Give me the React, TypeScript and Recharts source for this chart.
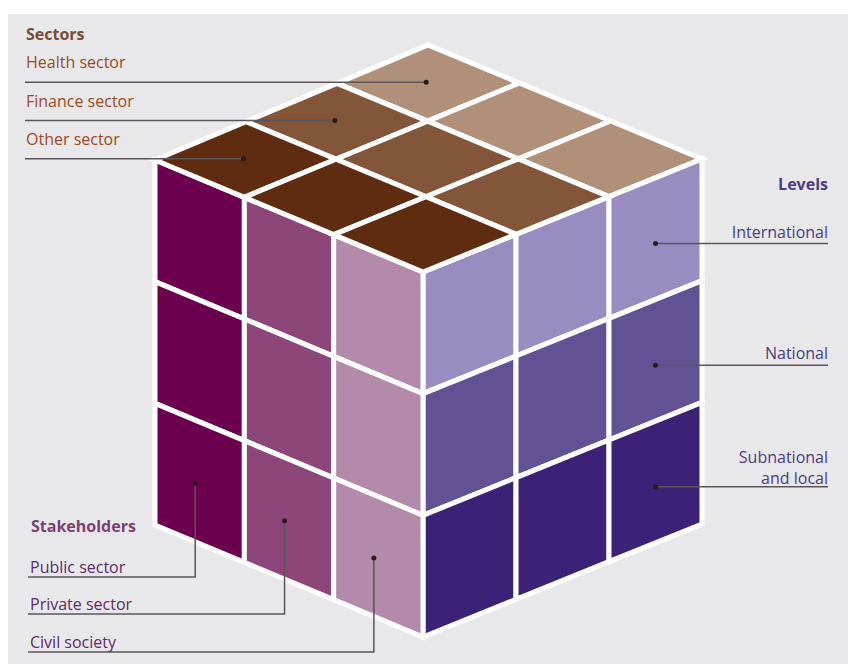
import { ScatterChart, Scatter, XAxis, YAxis } from "recharts";

const W = 848;
const H = 664;

// top face, back row to front row
const sectors = ["Health sector", "Finance sector", "Other sector"];
const sectorColors = ["#b09079", "#835539", "#5f2c10"];

// left face columns, left to right
const stakeholders = ["Public sector", "Private sector", "Civil society"];
const stakeholderColors = ["#6a004e", "#8c4679", "#b48aab"];
const stakeholderLineY = [577, 614, 652];

// right face rows, top to bottom
const levels = ["International", "National", "Subnational\nand local"];
const levelColors = ["#998cc1", "#625294", "#3b2276"];

// cube outline
const cubeLeft = { x: 155, y: 160 };
const cubeFront = { x: 423, y: 272 };
const cubeBack = { x: 428, y: 45 };
const cubeRight = { x: 702, y: 159 };
const cubeHeight = 365;

type Pt = { x: number; y: number };

const down = (p: Pt): Pt => ({ x: p.x, y: p.y + cubeHeight });

// bilinear point on a face given its four corners
function facePoint(p00: Pt, p10: Pt, p01: Pt, p11: Pt, s: number, t: number): Pt {
  return {
    x: (1 - s) * (1 - t) * p00.x + s * (1 - t) * p10.x + (1 - s) * t * p01.x + s * t * p11.x,
    y: (1 - s) * (1 - t) * p00.y + s * (1 - t) * p10.y + (1 - s) * t * p01.y + s * t * p11.y,
  };
}

type Face = [Pt, Pt, Pt, Pt];
const topFace: Face = [cubeLeft, cubeFront, cubeBack, cubeRight];
const leftFace: Face = [cubeLeft, cubeFront, down(cubeLeft), down(cubeFront)];
const rightFace: Face = [cubeFront, cubeRight, down(cubeFront), down(cubeRight)];

const onFace = (face: Face, s: number, t: number) => facePoint(face[0], face[1], face[2], face[3], s, t);

function cell(face: Face, s0: number, t0: number, fill: string) {
  const c = onFace(face, s0 + 1 / 6, t0 + 1 / 6);
  return {
    x: c.x,
    y: c.y,
    fill,
    pts: [onFace(face, s0, t0), onFace(face, s0 + 1 / 3, t0), onFace(face, s0 + 1 / 3, t0 + 1 / 3), onFace(face, s0, t0 + 1 / 3)],
  };
}

const cells: any[] = [];
for (let i = 0; i < 3; i++) {
  for (let j = 0; j < 3; j++) {
    // top: rows run from front edge (t=0, other) to back edge (t=1, health)
    cells.push(cell(topFace, j / 3, (2 - i) / 3, sectorColors[i]));
    cells.push(cell(leftFace, j / 3, i / 3, stakeholderColors[j]));
    cells.push(cell(rightFace, j / 3, i / 3, levelColors[i]));
  }
}

// leader dots sit roughly in the middle of the cell they point at
const sectorDots = sectors.map((_, k) => onFace(topFace, 0.16, (2.5 - k) / 3));
const stakeholderDots = stakeholders.map((_, j) => onFace(leftFace, (j + 0.45) / 3, 0.84));
const levelDots = levels.map((_, i) => onFace(rightFace, 5 / 6, (i + 0.54) / 3));

const leaders: Pt[][] = [
  ...sectorDots.map((d) => [{ x: 25, y: d.y }, d]),
  ...levelDots.map((d) => [d, { x: 828, y: d.y }]),
  ...stakeholderDots.map((d, j) => [d, { x: d.x, y: stakeholderLineY[j] }, { x: 28, y: stakeholderLineY[j] }]),
];

const labels = [
  { x: 26, y: 34, text: "Sectors", anchor: "start", color: "#7a4c36", bold: true },
  ...sectors.map((s, k) => ({ x: 26, y: sectorDots[k].y - 20, text: s, anchor: "start", color: "#9a4b22", bold: false })),
  { x: 828, y: 184, text: "Levels", anchor: "end", color: "#4d3d85", bold: true },
  ...levels.map((s, i) => ({ x: 828, y: levelDots[i].y - 12, text: s, anchor: "end", color: "#4a3c82", bold: false })),
  { x: 31, y: 526, text: "Stakeholders", anchor: "start", color: "#7e3f72", bold: true },
  ...stakeholders.map((s, j) => ({ x: 30, y: stakeholderLineY[j] - 10, text: s, anchor: "start", color: "#5e2a6a", bold: false })),
];

const KX = W / W;
const KY = H / H;
const LINE_GAP = 21;

function CellShape(props: any) {
  const { cx, cy, payload } = props;
  const d = payload.pts
    .map((p: Pt, i: number) => `${i ? "L" : "M"}${cx + (p.x - payload.x) * KX},${cy + (p.y - payload.y) * KY}`)
    .join(" ") + " Z";
  return <path d={d} fill={payload.fill} stroke="#ffffff" strokeWidth={5} strokeLinejoin="miter" />;
}

function DotShape(props: any) {
  return <circle cx={props.cx} cy={props.cy} r={2.5} fill="#2b1b1b" />;
}

function LabelShape(props: any) {
  const { cx, cy, payload } = props;
  const lines = String(payload.text).split("\n");
  const shift = (lines.length - 1) * LINE_GAP;
  return (
    <text
      x={cx}
      y={cy - shift + (lines.length - 1) * 3}
      textAnchor={payload.anchor}
      dominantBaseline="central"
      fill={payload.color}
      fontFamily="'Open Sans', sans-serif"
      fontSize={16}
      fontWeight={payload.bold ? 700 : 400}
    >
      {lines.map((l, i) => (
        <tspan key={i} x={cx} dy={i ? LINE_GAP : 0}>
          {l}
        </tspan>
      ))}
    </text>
  );
}

const noShape = () => <g />;

export default function App() {
  return (
    <div style={{ position: "absolute", left: 0, top: 0, width: W, height: H, background: "#ffffff" }}>
      <div style={{ position: "absolute", left: 8, top: 14, right: 0, bottom: 0, background: "#e8e8ea" }} />
      <div style={{ position: "absolute", left: 0, top: 0 }}>
        <ScatterChart width={W} height={H} margin={{ top: 0, right: 0, bottom: 0, left: 0 }}>
          <XAxis type="number" dataKey="x" domain={[0, W]} hide />
          <YAxis type="number" dataKey="y" domain={[0, H]} reversed hide />
          <Scatter data={cells} shape={CellShape} isAnimationActive={false} />
          {leaders.map((pts, i) => (
            <Scatter
              key={i}
              data={pts}
              line={{ stroke: "#5a5558", strokeWidth: 1.5 }}
              lineType="joint"
              shape={noShape}
              isAnimationActive={false}
            />
          ))}
          <Scatter data={[...sectorDots, ...levelDots, ...stakeholderDots]} shape={DotShape} isAnimationActive={false} />
          <Scatter data={labels} shape={LabelShape} isAnimationActive={false} />
        </ScatterChart>
      </div>
    </div>
  );
}
